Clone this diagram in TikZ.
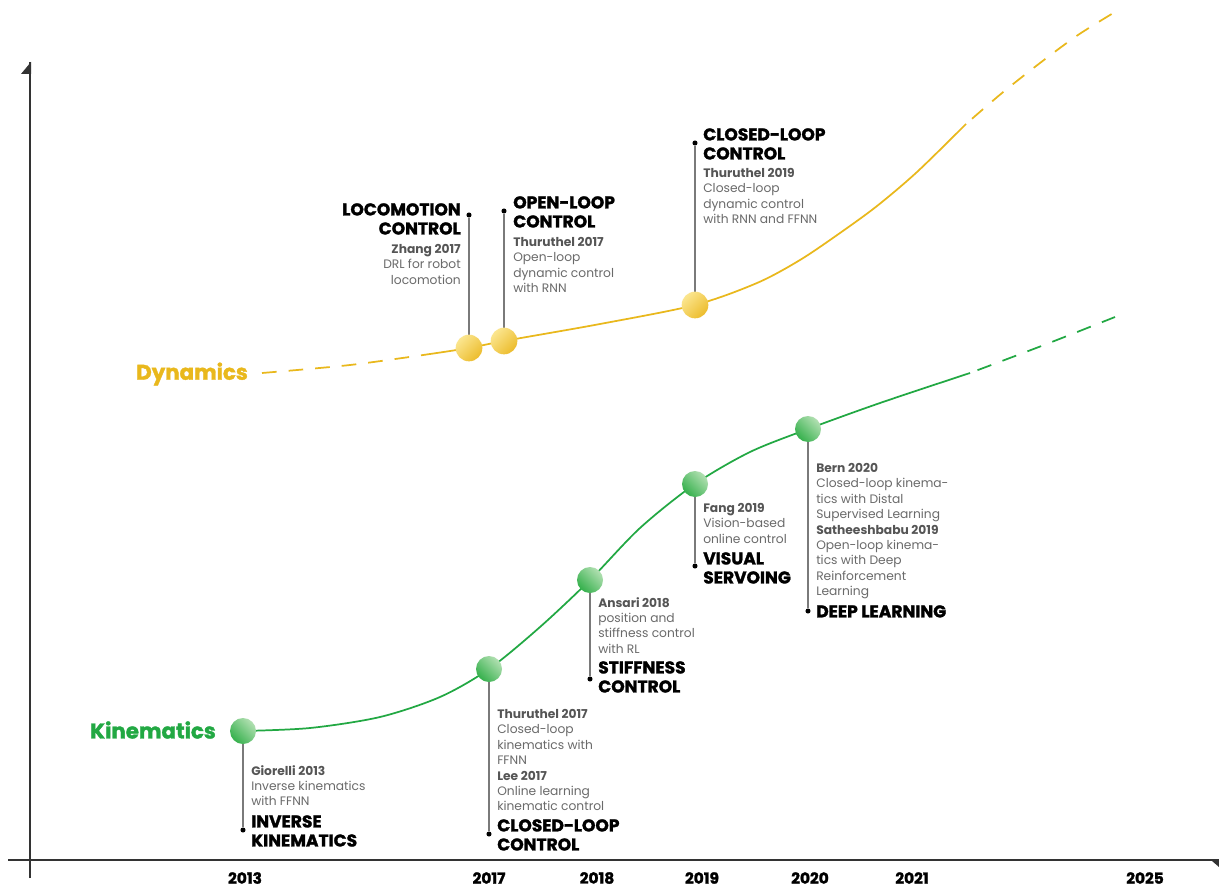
\documentclass[tikz,border=0pt]{standalone}
\usepackage{fontspec}
\setmainfont{Poppins}
\newfontfamily\heavyfont[BoldFeatures={FakeBold=1.6}]{Poppins}
\definecolor{gold}{HTML}{E9B81C}
\definecolor{goldlight}{HTML}{FBE690}
\definecolor{golddark}{HTML}{ECBC2C}
\definecolor{grn}{HTML}{22A843}
\definecolor{grnlight}{HTML}{B2E0B2}
\definecolor{grndark}{HTML}{35B04C}
\definecolor{stem}{HTML}{7A7A7A}
\definecolor{bodygray}{HTML}{6A6A6A}
\definecolor{authgray}{HTML}{555555}
\definecolor{axis}{HTML}{333333}
\tikzset{
  gball/.style={circle,inner sep=0pt,minimum size=19.5pt,top color=grnlight,bottom color=grndark,shading angle=-45},
  yball/.style={circle,inner sep=0pt,minimum size=20pt,top color=goldlight,bottom color=golddark,shading angle=45},
  tip/.style={circle,fill=black,inner sep=0pt,minimum size=3.8pt},
  stemline/.style={draw=stem,line width=0.9pt},
  ttl/.style={font=\heavyfont\bfseries\fontsize{12.8}{14.3}\selectfont,inner sep=0pt,align=left,anchor=north west,text=black},
  ttlr/.style={ttl,align=right,anchor=north east},
  bodytxt/.style={font=\fontsize{9.2}{11.55}\selectfont,inner sep=0pt,align=left,anchor=north west,text=bodygray},
  bodytxtr/.style={bodytxt,align=right,anchor=north east},
  year/.style={font=\heavyfont\bfseries\fontsize{11.5}{13}\selectfont,inner sep=0pt,anchor=center},
  serieslbl/.style={font=\heavyfont\bfseries\fontsize{16}{18}\selectfont,anchor=west,inner sep=0pt},
  kcurve/.style={draw=grn,line width=1.3pt},
  dcurve/.style={draw=gold,line width=1.3pt},
  dsh/.style={dash pattern=on 11pt off 9pt},
  dshgap/.style={dash pattern=on 11pt off 9pt,dash phase=14pt},
}
\newcommand{\auth}[1]{{\bfseries\color{authgray}#1}}
\begin{document}
\begin{tikzpicture}[x=0.75pt,y=-0.75pt]
\useasboundingbox[fill=white] (0,0) rectangle (1219,888);

% axes
\coordinate (yb) at (30,878);
\coordinate (yt) at (30,62);
\coordinate (xl) at (8,860);
\coordinate (xr) at (1219,860);
\draw[axis,line width=1.5pt] (yb) -- (yt);
\fill[axis] (31,62) -- (21,74) -- (31,74) -- cycle;
\draw[axis,line width=1.5pt] (xl) -- (xr);
\fill[axis] (1212,861) -- (1219,861) -- (1219,867) -- cycle;

% curve anchor coordinates
\coordinate (k1) at (243,731);
\coordinate (k2) at (489,669);
\coordinate (k3) at (590,580);
\coordinate (k4) at (695,484);
\coordinate (k5) at (808,429);
\coordinate (ks) at (970,373);
\coordinate (ke) at (1115,317);
\coordinate (d0) at (262,373);
\coordinate (ds) at (430,354);
\coordinate (d1) at (469,348);
\coordinate (d2) at (504,341);
\coordinate (d3) at (695,305);
\coordinate (dt) at (966,124);
\coordinate (de) at (1115,12);

% kinematics curve
\draw[kcurve] plot[smooth] coordinates {(k1) (310,728) (380,717) (440,697) (k2) (540,627) (k3) (640,528) (k4) (750,452) (k5) (880,403) (ks)};
\draw[kcurve,dshgap] plot[smooth] coordinates {(ks) (1044,345) (ke)};

% dynamics curve
\draw[dcurve,dsh] plot[smooth] coordinates {(d0) (350,365) (ds)};
\draw[dcurve] plot[smooth] coordinates {(ds) (d1) (d2) (600,324) (d3) (757,283) (800,260) (840,233) (877,206) (917,172) (dt)};
\draw[dcurve,dshgap] plot[smooth] coordinates {(dt) (1002,93) (1040,63) (1078,35) (de)};

% stems tips
\node[tip] (t1) at (243,830) {};
\node[tip] (t2) at (489,834) {};
\node[tip] (t3) at (590,679) {};
\node[tip] (t4) at (695,566) {};
\node[tip] (t5) at (808,611) {};
\node[tip] (u1) at (469,215) {};
\node[tip] (u2) at (504,211) {};
\node[tip] (u3) at (695,143) {};

\draw[stemline] (k1) -- (t1);
\draw[stemline] (k2) -- (t2);
\draw[stemline] (k3) -- (t3);
\draw[stemline] (k4) -- (t4);
\draw[stemline] (k5) -- (t5);
\draw[stemline] (d1) -- (u1);
\draw[stemline] (d2) -- (u2);
\draw[stemline] (d3) -- (u3);

% balls
\node[gball] (b1) at (k1) {};
\node[gball] (b2) at (k2) {};
\node[gball] (b3) at (k3) {};
\node[gball] (b4) at (k4) {};
\node[gball] (b5) at (k5) {};
\node[yball] (c1) at (d1) {};
\node[yball] (c2) at (d2) {};
\node[yball] (c3) at (d3) {};

% series labels
\node[serieslbl,text=gold] (dyn) at (136,374) {Dynamics};
\node[serieslbl,text=grn] (kin) at (90,730) {Kinematics};

% kinematics texts
\node[bodytxt] (k1b) at (251,765) {\auth{Giorelli 2013}\\Inverse kinematics\\with FFNN};
\node[ttl] (k1t) at (251,815) {INVERSE\\KINEMATICS};

\node[bodytxt] (k2b) at (497,709) {\auth{Thuruthel 2017}\\Closed-loop\\kinematics with\\FFNN\\\auth{Lee 2017}\\Online learning\\kinematic control};
\node[ttl] (k2t) at (497,819) {CLOSED-LOOP\\CONTROL};

\node[bodytxt] (k3b) at (598,597) {\auth{Ansari 2018}\\position and\\stiffness control\\with RL};
\node[ttl] (k3t) at (598,661) {STIFFNESS\\CONTROL};

\node[bodytxt] (k4b) at (703,503) {\auth{Fang 2019}\\Vision-based\\online control};
\node[ttl] (k4t) at (703,552) {VISUAL\\SERVOING};

\node[bodytxt] (k5b) at (816,463) {\auth{Bern 2020}\\Closed-loop kinema-\\tics with Distal\\Supervised Learning\\\auth{Satheeshbabu 2019}\\Open-loop kinema-\\tics with Deep\\Reinforcement\\Learning};
\node[ttl] (k5t) at (816,605) {DEEP LEARNING};

% dynamics texts
\node[ttlr] (d1t) at (461,203) {LOCOMOTION\\CONTROL};
\node[bodytxtr] (d1b) at (461,244) {\auth{Zhang 2017}\\DRL for robot\\locomotion};

\node[ttl] (d2t) at (513,196) {OPEN-LOOP\\CONTROL};
\node[bodytxt] (d2b) at (513,237) {\auth{Thuruthel 2017}\\Open-loop\\dynamic control\\with RNN};

\node[ttl] (d3t) at (703,128) {CLOSED-LOOP\\CONTROL};
\node[bodytxt] (d3b) at (703,168) {\auth{Thuruthel 2019}\\Closed-loop\\dynamic control\\with RNN and FFNN};

% years
\node[year] (y13) at (245,878) {2013};
\node[year] (y17) at (489,878) {2017};
\node[year] (y18) at (597,878) {2018};
\node[year] (y19) at (702,878) {2019};
\node[year] (y20) at (810,878) {2020};
\node[year] (y21) at (912,878) {2021};
\node[year] (y25) at (1145,878) {2025};
\end{tikzpicture}
\end{document}
